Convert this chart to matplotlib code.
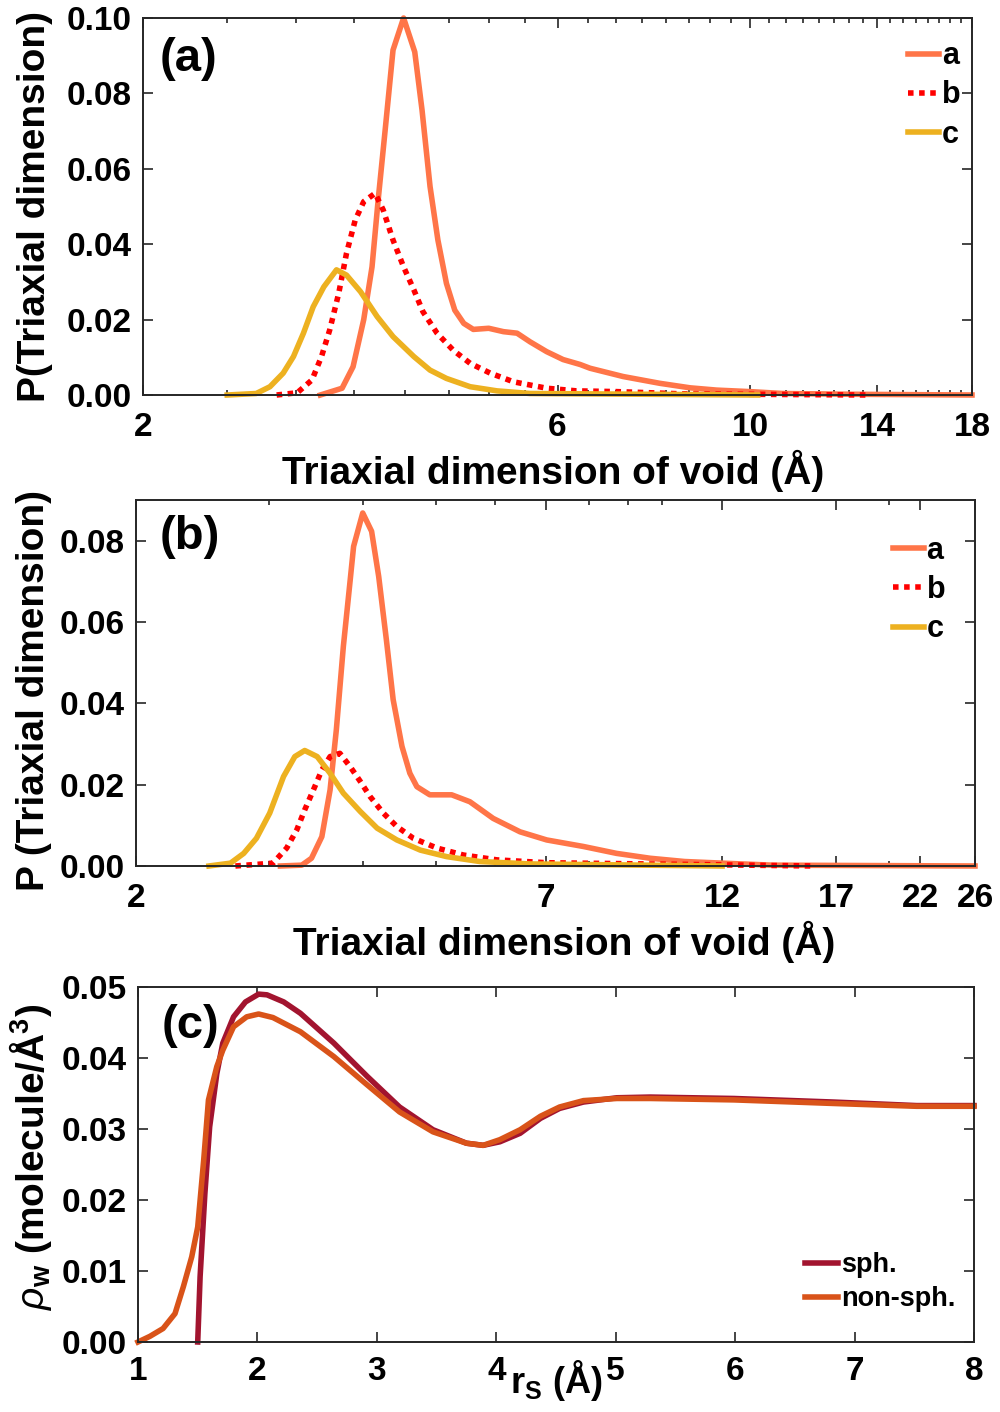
import matplotlib
matplotlib.use("Agg")
import numpy as np
from matplotlib import pyplot as plt
from matplotlib.ticker import FixedLocator, NullFormatter, LogLocator

# panel (a) - triaxial dimension distributions
a_x = [3.20, 3.39, 3.49, 3.59, 3.67, 3.73, 3.80, 3.88, 3.99, 4.11, 4.19, 4.28, 4.37, 4.47, 4.57,
       4.68, 4.80, 5.00, 5.20, 5.39, 5.58, 5.83, 6.09, 6.37, 6.54, 7.14, 7.87, 8.53, 9.15, 9.99,
       10.9, 13.0, 18.0]
a_y = [0.0, 0.0018, 0.0075, 0.020, 0.034, 0.0517, 0.0703, 0.0915, 0.100, 0.091, 0.0756, 0.0553,
       0.0411, 0.0296, 0.0225, 0.019, 0.0174, 0.0177, 0.0168, 0.0164, 0.0141, 0.0115, 0.0094,
       0.0081, 0.0071, 0.0049, 0.0031, 0.0019, 0.0013, 0.0009, 0.0004, 0.0002, 0.0]
b_x = [2.85, 3.01, 3.13, 3.21, 3.28, 3.36, 3.43, 3.51, 3.59, 3.70, 3.78, 3.88, 3.99, 4.10, 4.20,
       4.36, 4.55, 4.76, 5.02, 5.34, 5.83, 6.31, 7.02, 8.37, 13.7]
b_y = [0.0, 0.0006, 0.004, 0.0102, 0.0172, 0.027, 0.0376, 0.0464, 0.0513, 0.0535, 0.0491, 0.0411,
       0.034, 0.0279, 0.0221, 0.0164, 0.0119, 0.0084, 0.0058, 0.0035, 0.0018, 0.0011, 0.0009,
       0.0003, 0.0]
c_x = [2.50, 2.70, 2.80, 2.90, 2.98, 3.06, 3.14, 3.23, 3.34, 3.43, 3.56, 3.72, 3.88, 4.10, 4.28,
       4.47, 4.76, 5.11, 5.58, 10.2]
c_y = [0.0, 0.0004, 0.0022, 0.0058, 0.0102, 0.0164, 0.0234, 0.0287, 0.0332, 0.0318, 0.0274,
       0.0208, 0.0155, 0.0102, 0.0066, 0.0044, 0.0022, 0.0011, 0.0004, 0.0]

# panel (b)
a2_x = [3.11, 3.32, 3.42, 3.53, 3.62, 3.69, 3.77, 3.85, 3.89, 4.00, 4.11, 4.20, 4.30, 4.39, 4.51,
        4.62, 4.72, 4.91, 5.25, 5.55, 5.96, 6.47, 7.02, 7.85, 8.69, 9.63, 10.7, 12.0, 14.0, 26.0]
a2_y = [0.0, 0.0002, 0.0019, 0.0072, 0.0187, 0.0335, 0.054, 0.0704, 0.0786, 0.0868, 0.0823,
        0.0712, 0.0556, 0.0409, 0.0294, 0.0228, 0.0195, 0.0175, 0.0175, 0.0158, 0.0117, 0.0084,
        0.0064, 0.0048, 0.0031, 0.0019, 0.0011, 0.0007, 0.0002, 0.0]
b2_x = [2.71, 3.04, 3.17, 3.27, 3.35, 3.44, 3.53, 3.62, 3.73, 3.85, 3.97, 4.09, 4.26, 4.44, 4.67,
        5.02, 5.44, 6.03, 7.02, 15.9]
b2_y = [0.0, 0.0007, 0.0044, 0.0089, 0.0138, 0.0187, 0.0236, 0.0269, 0.0277, 0.0244, 0.0208,
        0.0171, 0.013, 0.0097, 0.0068, 0.0044, 0.0027, 0.0015, 0.0008, 0.0]
c2_x = [2.50, 2.67, 2.78, 2.89, 3.01, 3.14, 3.25, 3.35, 3.48, 3.62, 3.77, 3.97, 4.18, 4.44, 4.77,
        5.17, 5.72, 6.67, 12.0]
c2_y = [0.0, 0.0007, 0.0031, 0.0068, 0.013, 0.022, 0.0269, 0.0284, 0.0269, 0.0228, 0.0179,
        0.0134, 0.0093, 0.0064, 0.0039, 0.0023, 0.0011, 0.0005, 0.0]

# panel (c) - water density vs r_S
sph_x = [1.50, 1.52, 1.56, 1.60, 1.66, 1.71, 1.80, 1.90, 2.01, 2.08, 2.22, 2.36, 2.64, 2.92, 3.19,
         3.47, 3.75, 3.89, 4.03, 4.20, 4.37, 4.53, 4.73, 5.01, 5.29, 5.99, 6.82, 7.52, 8.0]
sph_y = [0.0, 0.0092, 0.0209, 0.0303, 0.0378, 0.0421, 0.0458, 0.0479, 0.049, 0.0489, 0.0479,
         0.0463, 0.0421, 0.0374, 0.0331, 0.0299, 0.028, 0.0277, 0.0282, 0.0294, 0.0315, 0.0329,
         0.0338, 0.0344, 0.0345, 0.0343, 0.0338, 0.0333, 0.0333]
nsph_x = [1.00, 1.10, 1.21, 1.31, 1.38, 1.45, 1.50, 1.55, 1.59, 1.66, 1.71, 1.80, 1.91, 2.01, 2.13,
          2.36, 2.64, 2.92, 3.19, 3.47, 3.75, 3.89, 4.03, 4.20, 4.37, 4.53, 4.73, 5.01, 5.29, 5.99,
          6.82, 7.52, 8.0]
nsph_y = [0.0, 0.0008, 0.0019, 0.004, 0.0078, 0.012, 0.0162, 0.0256, 0.0341, 0.0388, 0.0411,
          0.0444, 0.0458, 0.0462, 0.0457, 0.0437, 0.0402, 0.0362, 0.0324, 0.0296, 0.028, 0.0277,
          0.0285, 0.0299, 0.0318, 0.0331, 0.034, 0.0343, 0.0343, 0.0341, 0.0336, 0.0332, 0.0332]

xt_a = [2, 6, 10, 14, 18]
xt_b = [2, 7, 12, 17, 22, 26]
xt_c = [1, 2, 3, 4, 5, 6, 7, 8]

plt.rcParams['font.family'] = ['Liberation Sans', 'DejaVu Sans']
plt.rcParams['font.weight'] = 'bold'
plt.rcParams['axes.labelweight'] = 'bold'
plt.rcParams['mathtext.fontset'] = 'custom'
plt.rcParams['mathtext.rm'] = 'Liberation Sans:bold'
plt.rcParams['mathtext.bf'] = 'Liberation Sans:bold'
plt.rcParams['mathtext.it'] = 'Liberation Sans:italic:normal'

col_a = '#FF7548'
col_b = '#FF0000'
col_c = '#EDB120'
col_sph = '#A2142F'
col_nsph = '#D95319'
spine_col = '#262626'
lw = 4.0
tick_fs = 24
lab_fs = 28
leg_fs = 22

fig = plt.figure(figsize=(10, 14.12), dpi=100)
ax1 = fig.add_axes([0.143, 0.72025, 0.829, 0.267])
ax2 = fig.add_axes([0.136, 0.3867, 0.839, 0.2592])
ax3 = fig.add_axes([0.138, 0.04958, 0.836, 0.2514])


def style(ax):
    for s in ax.spines.values():
        s.set_linewidth(1.4)
        s.set_color(spine_col)
    ax.tick_params(which='both', direction='in', top=True, right=True, color=spine_col,
                   labelsize=tick_fs, width=1.2)
    ax.tick_params(which='major', length=7)
    ax.tick_params(which='minor', length=3.5)
    ax.tick_params(axis='x', pad=12)
    ax.tick_params(axis='y', pad=8)


# (a)
ax1.plot(a_x, a_y, color=col_a, lw=lw, label='a', clip_on=False)
ax1.plot(b_x, b_y, color=col_b, lw=lw, ls=(0, (1, 1)), label='b', clip_on=False)
ax1.plot(c_x, c_y, color=col_c, lw=lw, label='c', clip_on=False)
ax1.set_xscale('log')
ax1.set_xlim(2, 18)
ax1.set_ylim(0, 0.10)
ax1.xaxis.set_major_locator(FixedLocator(xt_a))
ax1.xaxis.set_minor_locator(FixedLocator(np.arange(2, 18.01, 0.5)))
ax1.xaxis.set_minor_formatter(NullFormatter())
ax1.set_xticklabels([str(v) for v in xt_a])
ax1.set_yticks(np.arange(0, 0.101, 0.02))
ax1.set_yticklabels(['%.2f' % v for v in np.arange(0, 0.101, 0.02)])
style(ax1)
ax1.set_xlabel('Triaxial dimension of void (Å)', fontsize=lab_fs)
ax1.xaxis.set_label_coords(0.495, -0.145)
ax1.set_ylabel('P(Triaxial dimension)', fontsize=lab_fs)
ax1.yaxis.set_label_coords(-0.108, 0.5)
ax1.text(0.02, 0.89, '(a)', transform=ax1.transAxes, fontsize=34, va='center')
ax1.legend(loc='upper right', bbox_to_anchor=(1.012, 0.995), frameon=False, fontsize=leg_fs,
           handlelength=1.0, handletextpad=0.1, labelspacing=0.3, borderaxespad=0.3)

# (b)
ax2.plot(a2_x, a2_y, color=col_a, lw=lw, label='a', clip_on=False)
ax2.plot(b2_x, b2_y, color=col_b, lw=lw, ls=(0, (1, 1)), label='b', clip_on=False)
ax2.plot(c2_x, c2_y, color=col_c, lw=lw, label='c', clip_on=False)
ax2.set_xscale('log')
ax2.set_xlim(2, 26)
ax2.set_ylim(0, 0.09)
ax2.xaxis.set_major_locator(FixedLocator(xt_b))
ax2.xaxis.set_minor_locator(LogLocator(base=10, subs=np.arange(1, 10)))
ax2.xaxis.set_minor_formatter(NullFormatter())
ax2.set_xticklabels([str(v) for v in xt_b])
ax2.set_yticks(np.arange(0, 0.081, 0.02))
ax2.set_yticklabels(['%.2f' % v for v in np.arange(0, 0.081, 0.02)])
style(ax2)
ax2.set_xlabel('Triaxial dimension of void (Å)', fontsize=lab_fs)
ax2.xaxis.set_label_coords(0.51, -0.15)
ax2.set_ylabel('P (Triaxial dimension)', fontsize=lab_fs)
ax2.yaxis.set_label_coords(-0.1, 0.48)
ax2.text(0.028, 0.9, '(b)', transform=ax2.transAxes, fontsize=34, va='center')
ax2.legend(loc='upper right', bbox_to_anchor=(0.99, 0.96), frameon=False, fontsize=leg_fs,
           handlelength=1.0, handletextpad=0.1, labelspacing=0.3, borderaxespad=0.3)

# (c)
ax3.plot(sph_x, sph_y, color=col_sph, lw=lw, label='sph.', clip_on=False)
ax3.plot(nsph_x, nsph_y, color=col_nsph, lw=lw, label='non-sph.', clip_on=False)
ax3.set_xlim(1, 8)
ax3.set_ylim(0, 0.05)
ax3.set_xticks(xt_c)
ax3.set_yticks(np.arange(0, 0.051, 0.01))
ax3.set_yticklabels(['%.2f' % v for v in np.arange(0, 0.051, 0.01)])
style(ax3)
ax3.tick_params(axis='x', pad=10)
ax3.set_xlabel(r'r$_{\mathbf{S}}$ (Å)', fontsize=26)
ax3.xaxis.set_label_coords(0.5, -0.045)
ax3.set_ylabel(r'$\rho_{\mathbf{w}}$ (molecule/Å$^{\mathbf{3}}$)', fontsize=lab_fs)
ax3.yaxis.set_label_coords(-0.1, 0.52)
ax3.text(0.028, 0.89, '(c)', transform=ax3.transAxes, fontsize=34, va='center')
ax3.legend(loc='lower right', bbox_to_anchor=(1.0, 0.03), frameon=False, fontsize=19.5,
           handlelength=1.2, handletextpad=0.1, labelspacing=0.3, borderaxespad=0.3)

fig.savefig('out.png', dpi=100)
